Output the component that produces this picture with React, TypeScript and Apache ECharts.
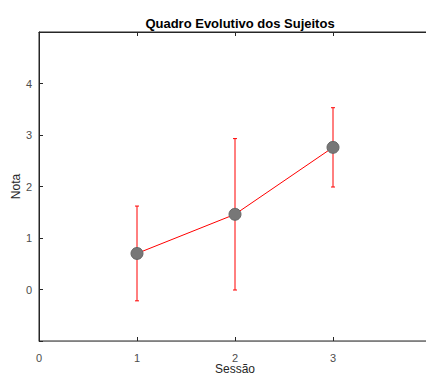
import React, { useEffect, useRef } from "react";
import * as echarts from "echarts";

const sessions = [1, 2, 3];
const means = [0.7, 1.46, 2.76];
const errors = [0.92, 1.47, 0.77];
const yTicks = [0, 1, 2, 3, 4];

export default function App() {
  const ref = useRef<HTMLDivElement>(null);
  useEffect(() => {
    const chart = echarts.init(ref.current!, null, { renderer: "svg" });
    const font = "'Liberation Sans', Arial, sans-serif";
    const errData = sessions.map((s, i) => [s, means[i] - errors[i], means[i] + errors[i]]);
    chart.setOption({
      animation: false,
      title: {
        text: "Quadro Evolutivo dos Sujeitos",
        left: 235,
        textAlign: "center",
        top: 12,
        textStyle: { fontFamily: font, fontSize: 13, fontWeight: "bold", color: "#000" },
      },
      grid: {
        left: 39,
        top: 32,
        width: 392,
        height: 309,
        outerBoundsMode: "none",
        containLabel: false,
        show: true,
        borderColor: "#262626",
        borderWidth: 1,
        backgroundColor: "#fff",
      },
      xAxis: [
        {
          type: "value",
          min: 0,
          max: 4,
          interval: 1,
          name: "Sessão",
          nameLocation: "middle",
          nameGap: 22,
          nameMoveOverlap: false,
          nameTextStyle: { fontFamily: font, fontSize: 12, color: "#262626" },
          axisLine: { show: true, onZero: false, lineStyle: { color: "#808080", width: 1 } },
          axisTick: { show: true, inside: true, length: 4, lineStyle: { color: "#262626" } },
          axisLabel: { fontFamily: font, fontSize: 11, color: "#4d4d4d", margin: 11, showMaxLabel: false },
          splitLine: { show: false },
        },
        {
          type: "value",
          position: "top",
          min: 0,
          max: 4,
          interval: 1,
          axisLine: { show: true, onZero: false, lineStyle: { color: "#262626", width: 1 } },
          axisTick: { show: true, inside: true, length: 4, lineStyle: { color: "#262626" } },
          axisLabel: { show: false },
          splitLine: { show: false },
        },
      ],
      yAxis: {
        type: "value",
        min: -1,
        max: 5,
        interval: 1,
        name: "Nota",
        nameLocation: "middle",
        nameGap: 17,
        nameMoveOverlap: false,
        nameTextStyle: { fontFamily: font, fontSize: 12, color: "#262626" },
        axisLine: { show: true, onZero: false, lineStyle: { color: "#262626", width: 1 } },
        axisTick: { show: true, inside: true, length: 4, lineStyle: { color: "#262626" } },
        axisLabel: {
          fontFamily: font,
          fontSize: 11,
          color: "#4d4d4d",
          margin: 7,
          formatter: (v: number) => (yTicks.includes(v) ? String(v) : ""),
        },
        splitLine: { show: false },
      },
      series: [
        {
          type: "custom",
          z: 1,
          xAxisIndex: 0,
          data: errData,
          renderItem: (params: any, api: any) => {
            const x = api.value(0);
            const lo = api.coord([x, api.value(1)]);
            const hi = api.coord([x, api.value(2)]);
            const cap = 2;
            const style = { stroke: "#ff0000", lineWidth: 1 };
            return {
              type: "group",
              children: [
                { type: "line", shape: { x1: lo[0], y1: lo[1], x2: hi[0], y2: hi[1] }, style },
                { type: "line", shape: { x1: lo[0] - cap, y1: lo[1], x2: lo[0] + cap, y2: lo[1] }, style },
                { type: "line", shape: { x1: hi[0] - cap, y1: hi[1], x2: hi[0] + cap, y2: hi[1] }, style },
              ],
            };
          },
        },
        {
          type: "line",
          z: 2,
          xAxisIndex: 0,
          data: sessions.map((s, i) => [s, means[i]]),
          symbol: "circle",
          symbolSize: 12,
          lineStyle: { color: "#ff0000", width: 1 },
          itemStyle: { color: "#777777", borderColor: "#666666", borderWidth: 1 },
        },
      ],
    });
    return () => chart.dispose();
  }, []);
  return (
    <div
      ref={ref}
      style={{ width: 426, height: 376, position: "absolute", left: 0, top: 0, overflow: "hidden" }}
    />
  );
}
